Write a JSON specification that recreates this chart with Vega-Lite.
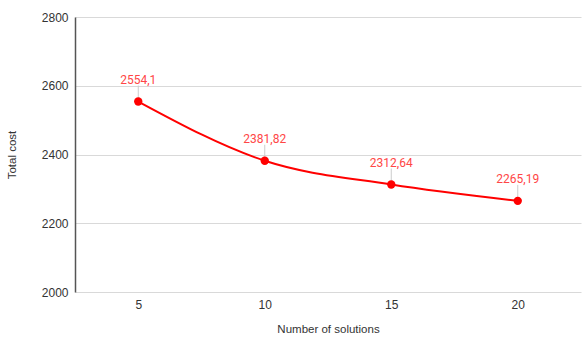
{
  "$schema": "https://vega.github.io/schema/vega-lite/v6.json",
  "autosize": {"type": "fit", "contains": "padding"},
  "width": 582,
  "height": 343,
  "padding": {"left": 6, "top": 11, "right": 1, "bottom": 8},
  "background": "white",
  "config": {"view": {"stroke": null}},
  "data": {"values": [
    {"n": "5", "cost": 2554.1, "label": "2554,1"},
    {"n": "10", "cost": 2381.82, "label": "2381,82"},
    {"n": "15", "cost": 2312.64, "label": "2312,64"},
    {"n": "20", "cost": 2265.19, "label": "2265,19"}
  ]},
  "encoding": {
    "x": {"field": "n", "type": "ordinal", "sort": null,
      "scale": {"type": "point", "padding": 0.5},
      "axis": {"title": "Number of solutions", "labelAngle": 0, "domain": false, "ticks": false,
        "labelFont": "Liberation Sans", "labelFontSize": 12, "labelColor": "#333", "labelPadding": 7,
        "titleFont": "Liberation Sans", "titleFontSize": 11.5, "titleFontWeight": "normal", "titleColor": "#333", "titlePadding": 13}},
    "y": {"field": "cost", "type": "quantitative",
      "scale": {"domain": [2000, 2800], "nice": false, "zero": false},
      "axis": {"title": "Total cost", "values": [2000, 2200, 2400, 2600, 2800], "format": "d",
        "grid": true, "gridColor": "#d9d9d9", "ticks": false, "domainColor": "#555", "domainWidth": 1.5,
        "labelFont": "Liberation Sans", "labelFontSize": 12, "labelColor": "#333", "labelPadding": 7,
        "titleFont": "Liberation Sans", "titleFontSize": 11.5, "titleFontWeight": "normal", "titleColor": "#333", "titlePadding": 24}}
  },
  "layer": [
    {"mark": {"type": "rule", "color": "#cccccc", "strokeWidth": 1, "y2Offset": -16},
     "encoding": {"y2": {"field": "cost"}}},
    {"mark": {"type": "line", "color": "#ff0000", "strokeWidth": 2, "interpolate": "monotone"}},
    {"mark": {"type": "point", "filled": true, "color": "#ff0000", "opacity": 1, "size": 70}},
    {"mark": {"type": "text", "color": "#ff4646", "font": "Roboto", "fontSize": 12, "dy": -22},
     "encoding": {"text": {"field": "label"}}}
  ]
}
